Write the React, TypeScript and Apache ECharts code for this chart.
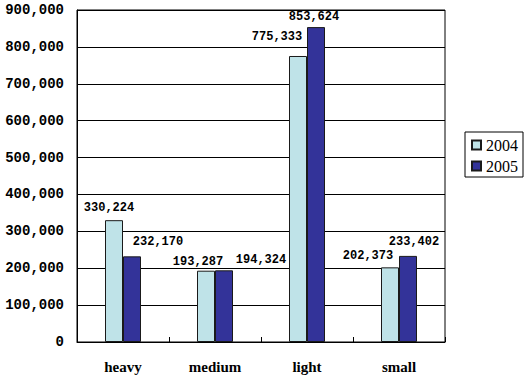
import React, { useEffect, useRef } from "react";
import * as echarts from "echarts";

const categories = ["heavy", "medium", "light", "small"];
const seriesNames = ["2004", "2005"];
const values2004 = [330224, 193287, 775333, 202373];
const values2005 = [232170, 194324, 853624, 233402];
const yTicks = [0, 100000, 200000, 300000, 400000, 500000, 600000, 700000, 800000, 900000];

const labelOffsets2004 = [[-5, -1], [-8, 2], [-21, -8], [-22, 0]];
const labelOffsets2005 = [[26, -3], [37, 1], [-2, 1], [6, -3]];

const fmt = (v: number) => v.toLocaleString("en-US");

export default function App() {
  const ref = useRef<HTMLDivElement>(null);
  useEffect(() => {
    if (!ref.current) return;
    const chart = echarts.init(ref.current, null, { renderer: "svg" });
    const mono = "'Liberation Mono', 'DejaVu Sans Mono', monospace";
    const serif = "'Liberation Serif', 'DejaVu Serif', serif";
    const mkData = (vals: number[], offs: number[][]) =>
      vals.map((v, i) => ({ value: v, label: { offset: offs[i] } }));
    const labelStyle = {
      show: true,
      position: "top" as const,
      distance: 5,
      fontFamily: mono,
      fontWeight: "bold" as const,
      fontSize: 12,
      color: "#000",
      formatter: (p: any) => fmt(p.value),
    };
    chart.setOption({
      animation: false,
      backgroundColor: "#fff",
      grid: {
        left: 77,
        top: 10,
        width: 368,
        height: 332,
        show: true,
        borderColor: "#000",
        borderWidth: 1,
        backgroundColor: "#fff",
      },
      legend: {
        data: seriesNames,
        orient: "vertical",
        left: 465,
        top: 132,
        padding: [5, 5, 3, 6],
        itemGap: 5,
        itemWidth: 9,
        itemHeight: 9,
        borderColor: "#000",
        borderWidth: 1,
        icon: "rect",
        textStyle: {
          fontFamily: serif,
          fontSize: 16,
          color: "#000",
        },
      },
      xAxis: {
        type: "category",
        data: categories,
        axisLine: { show: true, lineStyle: { color: "#000", width: 1 } },
        axisTick: { show: true, inside: true, length: 5, lineStyle: { color: "#000" } },
        axisLabel: {
          margin: 17,
          fontFamily: serif,
          fontWeight: "bold",
          fontSize: 15,
          color: "#000",
        },
        splitLine: { show: false },
      },
      yAxis: {
        type: "value",
        min: yTicks[0],
        max: yTicks[yTicks.length - 1],
        interval: yTicks[1] - yTicks[0],
        axisLine: { show: true, lineStyle: { color: "#000", width: 1 } },
        axisTick: { show: false },
        axisLabel: {
          margin: 13,
          fontFamily: mono,
          fontWeight: "bold",
          fontSize: 14,
          color: "#000",
          formatter: (v: number) => fmt(v),
        },
        splitLine: { show: true, lineStyle: { color: "#000", width: 1, type: "solid" } },
      },
      series: [
        {
          name: seriesNames[0],
          type: "bar",
          barWidth: 18,
          barGap: "0%",
          data: mkData(values2004, labelOffsets2004),
          itemStyle: { color: "#BFE3E8", borderColor: "#1a1a1a", borderWidth: 1 },
          label: labelStyle,
        },
        {
          name: seriesNames[1],
          type: "bar",
          barWidth: 18,
          barGap: "0%",
          data: mkData(values2005, labelOffsets2005),
          itemStyle: { color: "#333399", borderColor: "#1a1a1a", borderWidth: 1 },
          label: labelStyle,
        },
      ],
    });
    return () => chart.dispose();
  }, []);
  return (
    <div
      ref={ref}
      style={{ position: "fixed", left: 0, top: 0, width: 526, height: 390, background: "#fff" }}
    />
  );
}
